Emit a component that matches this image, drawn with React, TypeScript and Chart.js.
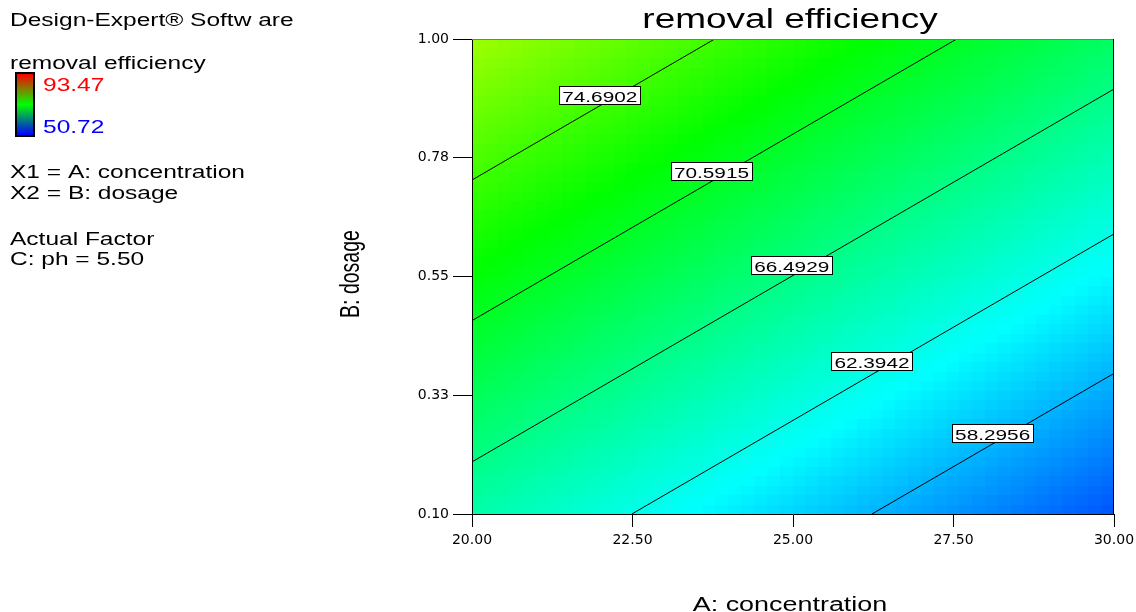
import React, { useEffect, useRef } from 'react';
import { Chart, registerables } from 'chart.js';

Chart.register(...registerables);

// ---- data ----
const xTickValues = [20, 22.5, 25, 27.5, 30];
const xTickLabels = ['20.00', '22.50', '25.00', '27.50', '30.00'];
const yTickValues = [0.1, 0.325, 0.55, 0.775, 1.0];
const yTickLabels = ['0.10', '0.33', '0.55', '0.78', '1.00'];

const contourLevels = ['74.6902', '70.5915', '66.4929', '62.3942', '58.2956'];
const contourStartA = [20, 20, 20, 22.49, 26.23];
const contourStartB = [0.7328, 0.4664, 0.1987, 0.1, 0.1];
const contourEndA = [23.78, 27.55, 30, 30, 30];
const contourEndB = [1.0, 1.0, 0.9052, 0.6307, 0.3664];
const labelA = [21.99, 23.73, 24.98, 26.23, 28.11];
const labelB = [0.894, 0.75, 0.572, 0.39, 0.253];

const surfaceBase = [65.02];
const surfaceSlopes = [-1.08, 15.28];
const colorRange = [50.72, 93.47];
const gridCells = [50, 50];

const titleText = 'removal efficiency';
const xAxisTitle = 'A: concentration';
const yAxisTitle = 'B: dosage';
const panelLines = ['Design-Expert® Softw are', 'removal efficiency', 'X1 = A: concentration', 'X2 = B: dosage', 'Actual Factor', 'C: ph = 5.50'];
const rangeLabels = ['93.47', '50.72'];

const FONT = '"Liberation Sans", Arial, sans-serif';

function surface(a: number, b: number) {
  return surfaceBase[0] + surfaceSlopes[0] * (a - 20) + surfaceSlopes[1] * (b - 0.1);
}

function colorFor(v: number) {
  const stops = [[0, 0, 255], [0, 255, 255], [0, 255, 0], [255, 255, 0], [255, 0, 0]];
  let t = (v - colorRange[0]) / (colorRange[1] - colorRange[0]);
  t = Math.max(0, Math.min(1, t));
  const s = t * 4;
  const k = Math.min(3, Math.floor(s));
  const f = s - k;
  const c = stops[k].map((c0, i) => Math.round(c0 + (stops[k + 1][i] - c0) * f));
  return `rgb(${c[0]},${c[1]},${c[2]})`;
}

function drawStretched(ctx: CanvasRenderingContext2D, text: string, x: number, y: number, size: number, sx: number, align: CanvasTextAlign, color: string, baseline: CanvasTextBaseline = 'alphabetic') {
  ctx.save();
  ctx.translate(x, y);
  ctx.scale(sx, 1);
  ctx.font = `${size}px ${FONT}`;
  ctx.textAlign = align;
  ctx.textBaseline = baseline;
  ctx.fillStyle = color;
  ctx.fillText(text, 0, 0);
  ctx.restore();
}

const heatmapPlugin = {
  id: 'heatmap',
  beforeDraw(chart: any) {
    const ctx = chart.ctx as CanvasRenderingContext2D;
    const xs = chart.scales.x;
    const ys = chart.scales.y;
    const area = chart.chartArea;
    const [nx, ny] = gridCells;
    const dA = (xs.max - xs.min) / nx;
    const dB = (ys.max - ys.min) / ny;
    ctx.save();
    ctx.beginPath();
    ctx.rect(area.left, area.top, area.right - area.left, area.bottom - area.top);
    ctx.clip();
    for (let i = 0; i < nx; i++) {
      const a0 = xs.min + i * dA;
      const a1 = a0 + dA;
      const px0 = Math.floor(xs.getPixelForValue(a0));
      const px1 = Math.ceil(xs.getPixelForValue(a1));
      for (let j = 0; j < ny; j++) {
        const b0 = ys.min + j * dB;
        const b1 = b0 + dB;
        const py0 = Math.floor(ys.getPixelForValue(b1));
        const py1 = Math.ceil(ys.getPixelForValue(b0));
        ctx.fillStyle = colorFor(surface(a0 + dA / 2, b0 + dB / 2));
        ctx.fillRect(px0, py0, px1 - px0, py1 - py0);
      }
    }
    ctx.restore();
  },
};

const decorPlugin = {
  id: 'decor',
  afterDraw(chart: any) {
    const ctx = chart.ctx as CanvasRenderingContext2D;
    const xs = chart.scales.x;
    const ys = chart.scales.y;
    const area = chart.chartArea;

    // top and right frame
    ctx.save();
    ctx.lineWidth = 1;
    ctx.strokeStyle = '#777';
    ctx.beginPath();
    ctx.moveTo(area.left, Math.round(area.top) + 0.5);
    ctx.lineTo(area.right, Math.round(area.top) + 0.5);
    ctx.stroke();
    ctx.strokeStyle = '#000';
    ctx.beginPath();
    ctx.moveTo(Math.round(area.right) - 0.5, area.top);
    ctx.lineTo(Math.round(area.right) - 0.5, area.bottom);
    ctx.stroke();
    ctx.restore();

    // contour labels
    for (let k = 0; k < contourLevels.length; k++) {
      const cx = xs.getPixelForValue(labelA[k]);
      const cy = ys.getPixelForValue(labelB[k]);
      const w = 81;
      const h = 18;
      const bx = Math.round(cx - w / 2) + 0.5;
      const by = Math.round(cy - h / 2) + 0.5;
      ctx.save();
      ctx.fillStyle = '#fff';
      ctx.fillRect(bx, by, w, h);
      ctx.strokeStyle = '#000';
      ctx.lineWidth = 1;
      ctx.strokeRect(bx, by, w, h);
      ctx.restore();
      drawStretched(ctx, contourLevels[k], cx, by + h / 2 + 6, 15.5, 1.34, 'center', '#000');
    }

    // title and axis titles
    drawStretched(ctx, titleText, 790, 28, 27, 1.37, 'center', '#000');
    drawStretched(ctx, xAxisTitle, 790, 611, 19.5, 1.38, 'center', '#000');
    ctx.save();
    ctx.translate(352, 274);
    ctx.scale(1.38, 1);
    ctx.rotate(-Math.PI / 2);
    ctx.font = `19.5px ${FONT}`;
    ctx.textAlign = 'center';
    ctx.textBaseline = 'middle';
    ctx.fillStyle = '#000';
    ctx.fillText(yAxisTitle, 0, 0);
    ctx.restore();

    // left info panel
    const panelY = [26, 69, 178, 199, 245, 265];
    panelLines.forEach((t, i) => drawStretched(ctx, t, 10, panelY[i], 17.5, 1.4, 'left', '#000'));
    // colour bar
    ctx.save();
    ctx.fillStyle = '#000';
    ctx.fillRect(15, 72, 20, 65);
    const g = ctx.createLinearGradient(0, 74, 0, 135);
    g.addColorStop(0, 'rgb(255,0,0)');
    g.addColorStop(0.5, 'rgb(0,255,0)');
    g.addColorStop(1, 'rgb(0,0,255)');
    ctx.fillStyle = g;
    ctx.fillRect(17, 74, 16, 61);
    ctx.restore();
    drawStretched(ctx, rangeLabels[0], 43, 91, 17.5, 1.4, 'left', '#ff0000');
    drawStretched(ctx, rangeLabels[1], 43, 133, 17.5, 1.4, 'left', '#0000ff');
  },
};

export default function App() {
  const canvasRef = useRef<HTMLCanvasElement | null>(null);

  useEffect(() => {
    if (!canvasRef.current) return;
    const datasets = contourLevels.map((lvl, k) => ({
      label: lvl,
      data: [
        { x: contourStartA[k], y: contourStartB[k] },
        { x: contourEndA[k], y: contourEndB[k] },
      ],
      showLine: true,
      borderColor: '#000',
      borderWidth: 1,
      pointRadius: 0,
      fill: false,
    }));
    const tickFont = { family: '"DejaVu Sans", sans-serif', size: 14 };
    const chart = new Chart(canvasRef.current, {
      type: 'scatter',
      data: { datasets },
      options: {
        animation: false,
        responsive: false,
        maintainAspectRatio: false,
        devicePixelRatio: 1,
        layout: { padding: { left: 0, top: 39, right: 22, bottom: 0 } },
        plugins: {
          legend: { display: false },
          tooltip: { enabled: false },
          title: { display: false },
        },
        scales: {
          x: {
            type: 'linear',
            position: 'bottom',
            min: 20,
            max: 30,
            afterBuildTicks: (s: any) => { s.ticks = xTickValues.map((v) => ({ value: v })); },
            afterFit: (s: any) => { s.height = 98; s.paddingLeft = 0; s.paddingRight = 0; },
            ticks: {
              autoSkip: false,
              maxRotation: 0,
              padding: 5,
              color: '#000',
              font: tickFont,
              callback: (v: any) => xTickLabels[xTickValues.indexOf(Number(v))] ?? '',
            },
            grid: { drawOnChartArea: false, drawTicks: true, tickLength: 13, color: '#000' },
            border: { display: true, color: '#000', width: 1 },
          },
          y: {
            type: 'linear',
            position: 'left',
            min: 0.1,
            max: 1.0,
            afterBuildTicks: (s: any) => { s.ticks = yTickValues.map((v) => ({ value: v })); },
            afterFit: (s: any) => { s.width = 472; s.paddingTop = 0; s.paddingBottom = 0; },
            ticks: {
              autoSkip: false,
              padding: 4,
              color: '#000',
              font: tickFont,
              callback: (v: any) => yTickLabels[yTickValues.indexOf(Number(v))] ?? '',
            },
            grid: { drawOnChartArea: false, drawTicks: true, tickLength: 19, color: '#000' },
            border: { display: true, color: '#000', width: 1 },
          },
        },
      },
      plugins: [heatmapPlugin, decorPlugin],
    } as any);
    return () => chart.destroy();
  }, []);

  return (
    <div style={{ position: 'fixed', left: 0, top: 0, width: 1136, height: 612, background: '#fff' }}>
      <canvas ref={canvasRef} width={1136} height={612} style={{ display: 'block', width: 1136, height: 612 }} />
    </div>
  );
}
